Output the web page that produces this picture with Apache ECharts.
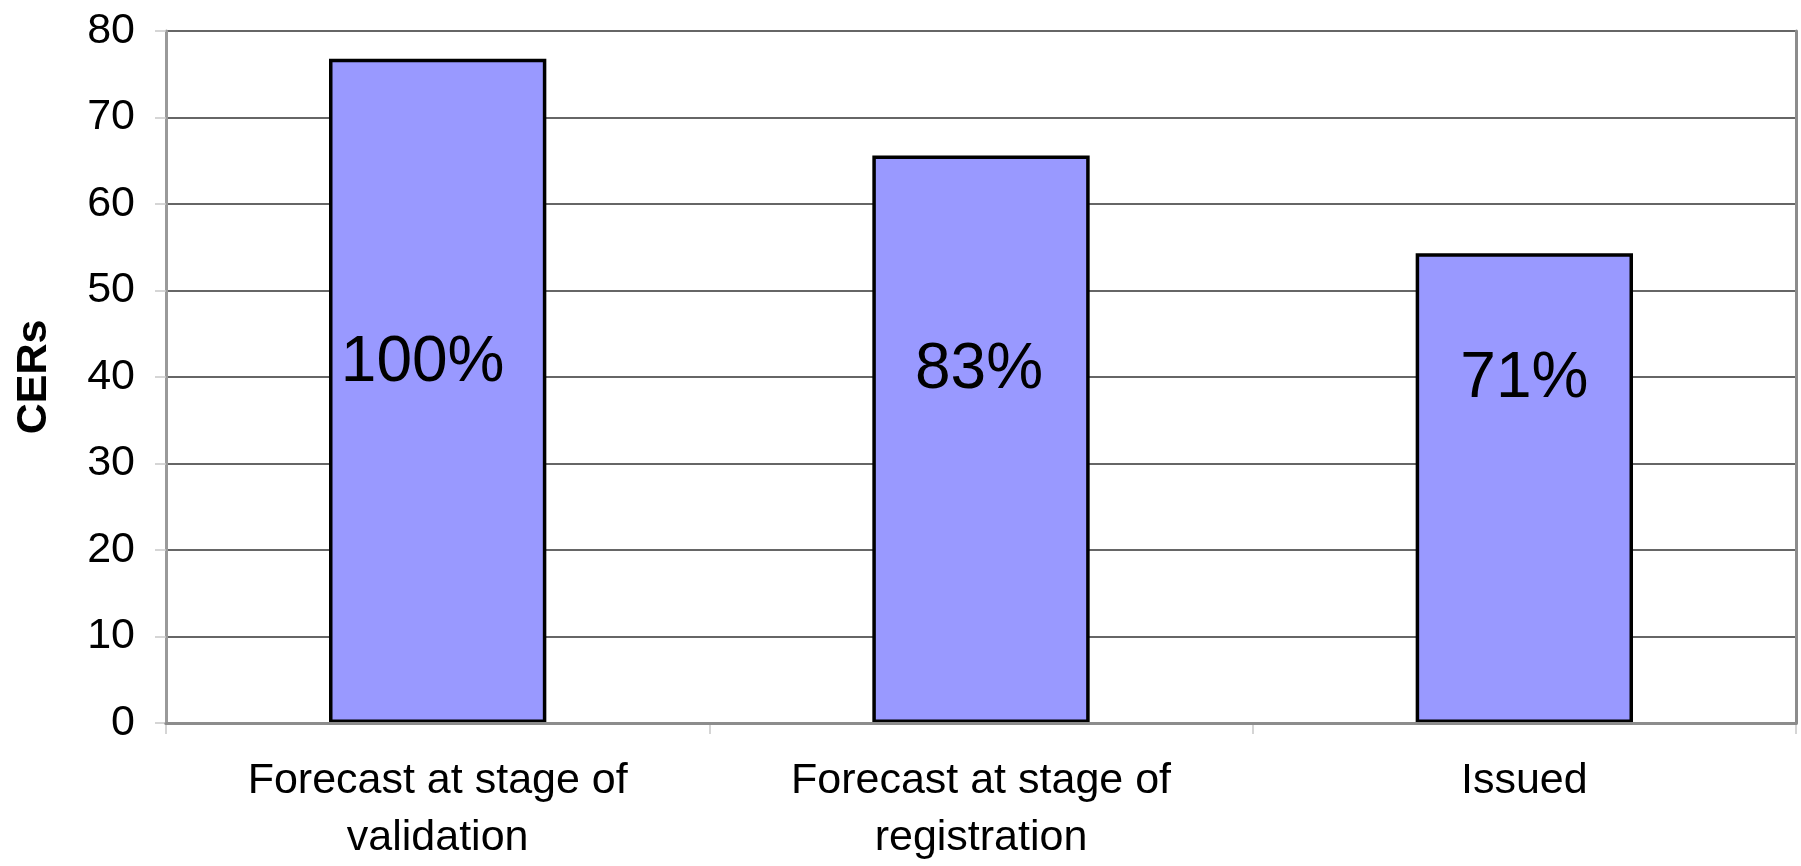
<!DOCTYPE html>
<html>
<head>
<meta charset="utf-8">
<title>CERs</title>
<script src="https://cdn.jsdelivr.net/npm/echarts@6/dist/echarts.min.js"></script>
<style>
  html, body { margin: 0; padding: 0; background: #ffffff; }
  #chart { width: 1801px; height: 866px; }
</style>
</head>
<body>
<div id="chart"></div>
<script>
// Categories along the x axis
const categories = [
  'Forecast at stage of\nvalidation',
  'Forecast at stage of\nregistration',
  'Issued'
];
// CER volumes per stage
const cerValues = [76.8, 65.6, 54.3];
// Share relative to the validation-stage forecast, printed inside each bar
const shareLabels = ['100%', '83%', '71%'];
// Value axis range
const yMin = 0;
const yMax = 80;
const yStep = 10;

// Label placement inside each bar (pixel offsets from the bar centre)
const labelOffsets = [[-15, -27], [-2, -69], [0, -109]];

const FONT = '"Liberation Sans", Arial, Helvetica, sans-serif';
const AXIS_GREY = '#8c8c8c';

const chart = echarts.init(document.getElementById('chart'), null, { renderer: 'canvas' });

const barData = cerValues.map((v, i) => ({
  value: v,
  label: {
    show: true,
    position: 'inside',
    offset: labelOffsets[i],
    formatter: shareLabels[i]
  }
}));

chart.setOption({
  animation: false,
  backgroundColor: '#ffffff',
  textStyle: { fontFamily: FONT },
  grid: {
    left: 166, right: 5, top: 31, bottom: 143,
    containLabel: false,
    outerBoundsMode: 'none'
  },
  xAxis: [
    {
      type: 'category',
      data: categories,
      position: 'bottom',
      axisLine: { show: true, lineStyle: { color: AXIS_GREY, width: 3 } },
      axisTick: { show: true, alignWithLabel: false, length: 11, lineStyle: { color: '#c8c8c8', width: 1.5 } },
      axisLabel: {
        color: '#000000', fontFamily: FONT, fontSize: 43, lineHeight: 57,
        margin: 30, interval: 0
      },
      splitLine: { show: false }
    },
    {
      type: 'category',
      data: categories,
      position: 'top',
      z: 5,
      axisLine: { show: true, lineStyle: { color: AXIS_GREY, width: 3 } },
      axisTick: { show: false },
      axisLabel: { show: false },
      splitLine: { show: false }
    }
  ],
  yAxis: [
    {
      type: 'value',
      min: yMin,
      max: yMax,
      interval: yStep,
      position: 'left',
      name: 'CERs',
      nameLocation: 'middle',
      nameRotate: 90,
      nameGap: 110,
      nameTextStyle: { color: '#000000', fontFamily: FONT, fontSize: 43, fontWeight: 'bold' },
      axisLine: { show: true, lineStyle: { color: '#9a9a9a', width: 3 } },
      axisTick: { show: true, length: 11, lineStyle: { color: '#c8c8c8', width: 1.5 } },
      axisLabel: { color: '#000000', fontFamily: FONT, fontSize: 43, margin: 31 },
      splitLine: { show: true, lineStyle: { color: '#333333', width: 1.5 } }
    },
    {
      type: 'value',
      min: yMin,
      max: yMax,
      interval: yStep,
      position: 'right',
      z: 5,
      axisLine: { show: true, lineStyle: { color: AXIS_GREY, width: 3 } },
      axisTick: { show: false },
      axisLabel: { show: false },
      splitLine: { show: false }
    }
  ],
  series: [
    {
      type: 'bar',
      xAxisIndex: 0,
      yAxisIndex: 0,
      data: barData,
      barWidth: '40%',
      z: 3,
      itemStyle: { color: '#9999ff', borderColor: '#000000', borderWidth: 3.5 },
      label: { color: '#000000', fontFamily: FONT, fontSize: 64 }
    }
  ]
});
</script>
</body>
</html>
